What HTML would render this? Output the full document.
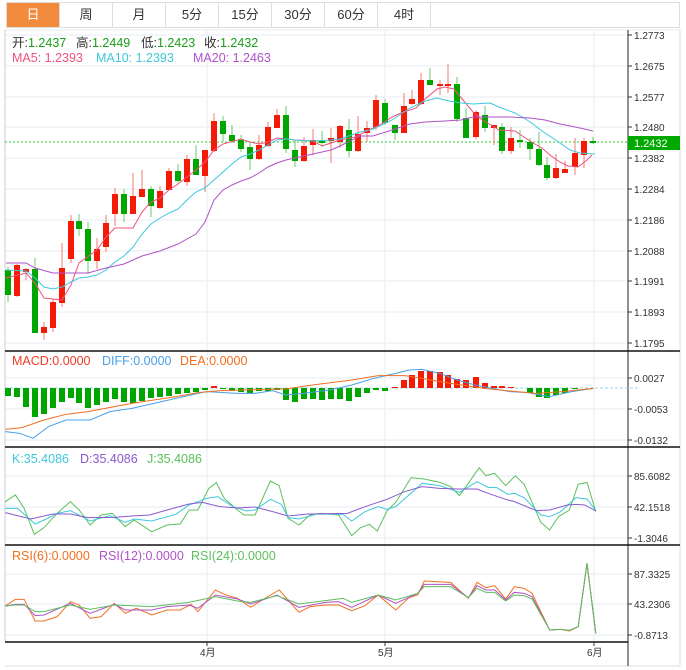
<!DOCTYPE html>
<html><head><meta charset="utf-8"><style>
body{margin:0;background:#fff;width:686px;height:670px;overflow:hidden;font-family:"Liberation Sans","Noto Sans CJK SC",sans-serif}
.tabs{position:absolute;left:6px;top:2px;height:26px;width:674px;border:1px solid #ddd;box-sizing:border-box;display:flex}
.tab{width:53px;height:100%;border-right:1px solid #ddd;box-sizing:border-box;text-align:center;line-height:24px;font-size:13px;color:#333}
.tab.on{background:#f28c3c;color:#fff}
svg{position:absolute;left:0;top:0}
text{font-family:"Liberation Sans","Noto Sans CJK SC",sans-serif}
</style></head><body>
<div class="tabs"><div class="tab on">日</div><div class="tab">周</div><div class="tab">月</div><div class="tab">5分</div><div class="tab">15分</div><div class="tab">30分</div><div class="tab">60分</div><div class="tab">4时</div></div>
<svg width="686" height="670" viewBox="0 0 686 670">
<g stroke="#e6edf2" stroke-width="1">
<line x1="5" y1="35" x2="628" y2="35"/><line x1="5" y1="66" x2="628" y2="66"/><line x1="5" y1="97" x2="628" y2="97"/><line x1="5" y1="127" x2="628" y2="127"/><line x1="5" y1="158" x2="628" y2="158"/><line x1="5" y1="189" x2="628" y2="189"/><line x1="5" y1="220" x2="628" y2="220"/><line x1="5" y1="251" x2="628" y2="251"/><line x1="5" y1="281" x2="628" y2="281"/><line x1="5" y1="312" x2="628" y2="312"/><line x1="5" y1="343" x2="628" y2="343"/>
<line x1="5" y1="378" x2="628" y2="378"/><line x1="5" y1="409" x2="628" y2="409"/><line x1="5" y1="440" x2="628" y2="440"/>
<line x1="5" y1="476" x2="628" y2="476"/><line x1="5" y1="507" x2="628" y2="507"/><line x1="5" y1="538" x2="628" y2="538"/>
<line x1="5" y1="574" x2="628" y2="574"/><line x1="5" y1="604" x2="628" y2="604"/><line x1="5" y1="635" x2="628" y2="635"/>
<line x1="207" y1="30" x2="207" y2="642"/><line x1="385" y1="30" x2="385" y2="642"/><line x1="594" y1="30" x2="594" y2="642"/>
</g>
<line x1="5" y1="30" x2="5" y2="642" stroke="#ccc"/>
<line x1="5" y1="30" x2="680" y2="30" stroke="#e6edf2"/>
<line x1="680" y1="30" x2="680" y2="666" stroke="#ddd"/>
<line x1="5" y1="666" x2="680" y2="666" stroke="#ddd"/>
<line x1="628" y1="30" x2="628" y2="666" stroke="#222"/>
<g stroke="#111" stroke-width="1.5"><line x1="5" y1="351" x2="680" y2="351"/><line x1="5" y1="447" x2="680" y2="447"/><line x1="5" y1="545" x2="680" y2="545"/><line x1="5" y1="642" x2="628" y2="642"/></g>
<g stroke="#333"><line x1="628" y1="35" x2="632" y2="35"/><line x1="628" y1="66" x2="632" y2="66"/><line x1="628" y1="97" x2="632" y2="97"/><line x1="628" y1="127" x2="632" y2="127"/><line x1="628" y1="158" x2="632" y2="158"/><line x1="628" y1="189" x2="632" y2="189"/><line x1="628" y1="220" x2="632" y2="220"/><line x1="628" y1="251" x2="632" y2="251"/><line x1="628" y1="281" x2="632" y2="281"/><line x1="628" y1="312" x2="632" y2="312"/><line x1="628" y1="343" x2="632" y2="343"/><line x1="628" y1="378" x2="632" y2="378"/><line x1="628" y1="409" x2="632" y2="409"/><line x1="628" y1="440" x2="632" y2="440"/><line x1="628" y1="476" x2="632" y2="476"/><line x1="628" y1="507" x2="632" y2="507"/><line x1="628" y1="538" x2="632" y2="538"/><line x1="628" y1="574" x2="632" y2="574"/><line x1="628" y1="604" x2="632" y2="604"/><line x1="628" y1="635" x2="632" y2="635"/><line x1="207" y1="642" x2="207" y2="646"/><line x1="385" y1="642" x2="385" y2="646"/><line x1="594" y1="642" x2="594" y2="646"/></g>
<g font-size="10" fill="#333">
<text x="634" y="39">1.2773</text><text x="634" y="70">1.2675</text><text x="634" y="101">1.2577</text><text x="634" y="131">1.2480</text><text x="634" y="162">1.2382</text><text x="634" y="193">1.2284</text><text x="634" y="224">1.2186</text><text x="634" y="255">1.2088</text><text x="634" y="285">1.1991</text><text x="634" y="316">1.1893</text><text x="634" y="347">1.1795</text>
<text x="634" y="382">0.0027</text><text x="634" y="413">-0.0053</text><text x="634" y="444">-0.0132</text>
<text x="634" y="480">85.6082</text><text x="634" y="511">42.1518</text><text x="634" y="542">-1.3046</text>
<text x="634" y="578">87.3325</text><text x="634" y="608">43.2306</text><text x="634" y="639">-0.8713</text>
<text x="200" y="656">4月</text><text x="378" y="656">5月</text><text x="587" y="656">6月</text>
</g>
<line x1="5" y1="142" x2="628" y2="142" stroke="#3c3" stroke-dasharray="2,2"/>
<rect x="628" y="136" width="52" height="14" fill="#00a800"/><text x="634" y="147" font-size="11" fill="#fff">1.2432</text>
<g font-size="12.5">
<text x="12" y="47" fill="#333">开:<tspan fill="#1a9e1a">1.2437</tspan></text>
<text x="76" y="47" fill="#333">高:<tspan fill="#1a9e1a">1.2449</tspan></text>
<text x="141" y="47" fill="#333">低:<tspan fill="#1a9e1a">1.2423</tspan></text>
<text x="204" y="47" fill="#333">收:<tspan fill="#1a9e1a">1.2432</tspan></text>
<text x="12" y="62" fill="#f0517f">MA5: 1.2393</text>
<text x="96" y="62" fill="#3ec8dc">MA10: 1.2393</text>
<text x="193" y="62" fill="#b052c8">MA20: 1.2463</text>
<text x="12" y="365" fill="#f03a2a">MACD:0.0000</text>
<text x="102" y="365" fill="#4aa0e8">DIFF:0.0000</text>
<text x="180" y="365" fill="#f07020">DEA:0.0000</text>
<text x="12" y="463" fill="#3ec8dc">K:35.4086</text>
<text x="80" y="463" fill="#8a5ad0">D:35.4086</text>
<text x="147" y="463" fill="#5cbf5c">J:35.4086</text>
<text x="12" y="560" fill="#f07020">RSI(6):0.0000</text>
<text x="99" y="560" fill="#b052c8">RSI(12):0.0000</text>
<text x="191" y="560" fill="#5cbf5c">RSI(24):0.0000</text>
</g>
<g stroke-width="1">
<g stroke="#6cc86c"><line x1="8" y1="267" x2="8" y2="302"/><line x1="35" y1="258" x2="35" y2="333"/><line x1="79" y1="214" x2="79" y2="236"/><line x1="88" y1="222" x2="88" y2="274"/><line x1="124" y1="189" x2="124" y2="222"/><line x1="151" y1="186" x2="151" y2="217"/><line x1="178" y1="164" x2="178" y2="183"/><line x1="196" y1="145" x2="196" y2="175"/><line x1="223" y1="116" x2="223" y2="142"/><line x1="232" y1="125" x2="232" y2="143"/><line x1="241" y1="135" x2="241" y2="152"/><line x1="250" y1="142" x2="250" y2="170"/><line x1="286" y1="106" x2="286" y2="153"/><line x1="295" y1="140" x2="295" y2="167"/><line x1="322" y1="131" x2="322" y2="147"/><line x1="349" y1="119" x2="349" y2="157"/><line x1="385" y1="99" x2="385" y2="125"/><line x1="395" y1="125" x2="395" y2="140"/><line x1="430" y1="68" x2="430" y2="85"/><line x1="457" y1="77" x2="457" y2="122"/><line x1="466" y1="108" x2="466" y2="138"/><line x1="485" y1="106" x2="485" y2="132"/><line x1="502" y1="123" x2="502" y2="154"/><line x1="520" y1="130" x2="520" y2="148"/><line x1="530" y1="138" x2="530" y2="160"/><line x1="539" y1="132" x2="539" y2="166"/><line x1="547" y1="157" x2="547" y2="180"/><line x1="593" y1="137" x2="593" y2="144"/></g>
<g stroke="#f47a70"><line x1="17" y1="264" x2="17" y2="297"/><line x1="26" y1="268" x2="26" y2="280"/><line x1="44" y1="322" x2="44" y2="340"/><line x1="53" y1="299" x2="53" y2="332"/><line x1="62" y1="243" x2="62" y2="307"/><line x1="71" y1="215" x2="71" y2="263"/><line x1="97" y1="238" x2="97" y2="269"/><line x1="106" y1="215" x2="106" y2="252"/><line x1="115" y1="188" x2="115" y2="226"/><line x1="133" y1="173" x2="133" y2="214"/><line x1="142" y1="170" x2="142" y2="197"/><line x1="160" y1="186" x2="160" y2="209"/><line x1="169" y1="168" x2="169" y2="190"/><line x1="187" y1="155" x2="187" y2="186"/><line x1="205" y1="150" x2="205" y2="192"/><line x1="214" y1="113" x2="214" y2="152"/><line x1="259" y1="135" x2="259" y2="160"/><line x1="268" y1="122" x2="268" y2="147"/><line x1="277" y1="109" x2="277" y2="128"/><line x1="304" y1="137" x2="304" y2="162"/><line x1="313" y1="129" x2="313" y2="155"/><line x1="331" y1="128" x2="331" y2="163"/><line x1="340" y1="125" x2="340" y2="148"/><line x1="358" y1="116" x2="358" y2="152"/><line x1="367" y1="121" x2="367" y2="142"/><line x1="376" y1="95" x2="376" y2="130"/><line x1="404" y1="93" x2="404" y2="133"/><line x1="412" y1="90" x2="412" y2="105"/><line x1="421" y1="73" x2="421" y2="105"/><line x1="440" y1="80" x2="440" y2="95"/><line x1="448" y1="64" x2="448" y2="93"/><line x1="476" y1="110" x2="476" y2="139"/><line x1="494" y1="125" x2="494" y2="145"/><line x1="511" y1="127" x2="511" y2="154"/><line x1="556" y1="154" x2="556" y2="179"/><line x1="565" y1="161" x2="565" y2="173"/><line x1="575" y1="138" x2="575" y2="175"/><line x1="584" y1="138" x2="584" y2="168"/></g>
</g>
<g fill="#00a600"><rect x="5" y="270" width="6" height="25"/><rect x="32" y="269" width="6" height="64"/><rect x="76" y="221" width="6" height="8"/><rect x="85" y="229" width="6" height="32"/><rect x="121" y="194" width="6" height="20"/><rect x="148" y="189" width="6" height="17"/><rect x="175" y="171" width="6" height="10"/><rect x="193" y="159" width="6" height="16"/><rect x="220" y="121" width="6" height="13"/><rect x="229" y="135" width="6" height="6"/><rect x="238" y="140" width="6" height="9"/><rect x="247" y="147" width="6" height="12"/><rect x="283" y="115" width="6" height="34"/><rect x="292" y="150" width="6" height="11"/><rect x="319" y="141" width="6" height="2"/><rect x="346" y="130" width="6" height="21"/><rect x="382" y="103" width="6" height="20"/><rect x="392" y="125" width="6" height="8"/><rect x="427" y="80" width="6" height="5"/><rect x="454" y="84" width="6" height="35"/><rect x="463" y="118" width="6" height="20"/><rect x="482" y="115" width="6" height="13"/><rect x="499" y="127" width="6" height="24"/><rect x="517" y="140" width="6" height="2"/><rect x="527" y="142" width="6" height="7"/><rect x="536" y="149" width="6" height="16"/><rect x="544" y="165" width="6" height="13"/><rect x="590" y="141" width="6" height="2"/></g>
<g fill="#f51a06"><rect x="14" y="265" width="6" height="31"/><rect x="23" y="269" width="6" height="3"/><rect x="41" y="327" width="6" height="6"/><rect x="50" y="302" width="6" height="26"/><rect x="59" y="268" width="6" height="35"/><rect x="68" y="221" width="6" height="38"/><rect x="94" y="249" width="6" height="12"/><rect x="103" y="223" width="6" height="24"/><rect x="112" y="194" width="6" height="20"/><rect x="130" y="196" width="6" height="18"/><rect x="139" y="189" width="6" height="8"/><rect x="157" y="191" width="6" height="17"/><rect x="166" y="171" width="6" height="19"/><rect x="184" y="159" width="6" height="23"/><rect x="202" y="150" width="6" height="26"/><rect x="211" y="121" width="6" height="30"/><rect x="256" y="145" width="6" height="14"/><rect x="265" y="127" width="6" height="19"/><rect x="274" y="115" width="6" height="13"/><rect x="301" y="146" width="6" height="15"/><rect x="310" y="140" width="6" height="5"/><rect x="328" y="138" width="6" height="3"/><rect x="337" y="126" width="6" height="16"/><rect x="355" y="134" width="6" height="17"/><rect x="364" y="128" width="6" height="5"/><rect x="373" y="100" width="6" height="27"/><rect x="401" y="106" width="6" height="27"/><rect x="409" y="99" width="6" height="5"/><rect x="418" y="80" width="6" height="24"/><rect x="437" y="84" width="6" height="2"/><rect x="445" y="84" width="6" height="2"/><rect x="473" y="112" width="6" height="25"/><rect x="491" y="125" width="6" height="3"/><rect x="508" y="138" width="6" height="13"/><rect x="553" y="168" width="6" height="10"/><rect x="562" y="169" width="6" height="4"/><rect x="572" y="153" width="6" height="14"/><rect x="581" y="141" width="6" height="14"/></g>
<g fill="none" stroke-width="1">
<polyline stroke="#f0517f" points="6,278 26,273 35,283 44,298 62,300 71,285 79,263 97,250 106,237 115,228 133,228 142,212 151,202 160,198 169,190 178,184 196,170 205,162 214,150 223,144 241,139 250,142 259,144 268,142 277,138 286,139 295,140 313,141 322,146 331,143 340,140 355,137 365,132 373,128 380,125 392,117 401,113 416,108 425,99 437,89 445,87 454,89 463,100 473,112 482,120 491,125 499,130 515,131 524,137 533,143 542,148 551,156 560,162 568,166 578,167 587,160 592,155"/>
<polyline stroke="#3ec8dc" points="6,270 26,271 35,278 44,287 53,289 62,287 71,282 79,278 88,277 97,275 106,270 115,262 124,256 133,247 142,234 151,224 160,218 169,213 178,209 187,200 196,192 205,188 214,180 223,172 232,164 241,157 250,154 259,150 268,145 277,140 286,139 295,140 313,141 331,140 340,139 360,132 373,129 392,120 410,108 425,101 437,98 449,101 461,103 473,104 490,103 499,107 515,113 524,118 533,124 542,131 551,137 560,143 570,150 580,153 595,154"/>
<polyline stroke="#b052c8" points="6,263 26,263 35,268 53,273 71,273 88,273 106,268 124,264 142,256 160,251 178,244 196,234 205,222 214,200 223,190 232,185 241,181 250,178 259,173 268,167 277,163 286,160 295,158 313,154 331,150 340,146 360,136 373,136 392,130 410,124 425,122 445,121 461,120 473,117 490,117 510,117 530,118 545,120 560,124 580,128 593,131"/>
</g>
<line x1="5" y1="388" x2="640" y2="388" stroke="#9cd0e8" stroke-dasharray="3,2"/>
<g fill="#00a600">
<rect x="5" y="388" width="6" height="8"/><rect x="14" y="388" width="6" height="9"/><rect x="23" y="388" width="6" height="19"/><rect x="32" y="388" width="6" height="29"/><rect x="41" y="388" width="6" height="26"/><rect x="50" y="388" width="6" height="20"/><rect x="59" y="388" width="6" height="14"/><rect x="68" y="388" width="6" height="10"/><rect x="76" y="388" width="6" height="15"/><rect x="85" y="388" width="6" height="20"/><rect x="94" y="388" width="6" height="17"/><rect x="103" y="388" width="6" height="14"/><rect x="112" y="388" width="6" height="11"/><rect x="121" y="388" width="6" height="14"/><rect x="130" y="388" width="6" height="15"/><rect x="139" y="388" width="6" height="13"/><rect x="148" y="388" width="6" height="10"/><rect x="157" y="388" width="6" height="9"/><rect x="166" y="388" width="6" height="8"/><rect x="175" y="388" width="6" height="6"/><rect x="184" y="388" width="6" height="5"/><rect x="193" y="388" width="6" height="4"/><rect x="202" y="388" width="6" height="2"/>
<rect x="220" y="388" width="6" height="1"/><rect x="229" y="388" width="6" height="3"/><rect x="238" y="388" width="6" height="4"/><rect x="247" y="388" width="6" height="5"/><rect x="256" y="388" width="6" height="3"/><rect x="265" y="388" width="6" height="3"/><rect x="274" y="388" width="6" height="2"/>
<rect x="283" y="388" width="6" height="12"/><rect x="292" y="388" width="6" height="14"/><rect x="301" y="388" width="6" height="11"/><rect x="310" y="388" width="6" height="11"/><rect x="319" y="388" width="6" height="12"/><rect x="328" y="388" width="6" height="11"/><rect x="337" y="388" width="6" height="11"/><rect x="346" y="388" width="6" height="13"/><rect x="355" y="388" width="6" height="9"/><rect x="364" y="388" width="6" height="5"/><rect x="373" y="388" width="6" height="2"/><rect x="382" y="388" width="6" height="3"/>
<rect x="527" y="388" width="6" height="5"/><rect x="536" y="388" width="6" height="9"/><rect x="544" y="388" width="6" height="10"/><rect x="553" y="388" width="6" height="7"/><rect x="562" y="388" width="6" height="5"/><rect x="572" y="388" width="6" height="1"/>
</g>
<g fill="#f51a06">
<rect x="211" y="386" width="6" height="2"/><rect x="392" y="387" width="6" height="1"/><rect x="401" y="380" width="6" height="8"/><rect x="409" y="375" width="6" height="13"/><rect x="418" y="371" width="6" height="17"/><rect x="427" y="371" width="6" height="17"/><rect x="437" y="372" width="6" height="16"/><rect x="445" y="375" width="6" height="13"/><rect x="454" y="379" width="6" height="9"/><rect x="463" y="380" width="6" height="8"/><rect x="473" y="377" width="6" height="11"/><rect x="482" y="383" width="6" height="5"/><rect x="491" y="386" width="6" height="2"/><rect x="499" y="386" width="6" height="2"/><rect x="508" y="387" width="6" height="1"/>
</g>
<g transform="translate(0,345) scale(0.4397,0.3333)" fill="none">
<polyline vector-effect="non-scaling-stroke" stroke="#4aa0e8" points="12,260 45,265 75,280 110,245 150,225 205,225 250,200 300,190 350,175 400,160 450,145 470,140 500,142 540,145 580,145 620,137 650,150 690,145 750,135 800,120 850,100 900,85 930,75 960,73 1000,85 1040,105 1080,120 1120,130 1160,140 1200,143 1250,155 1300,140 1350,130"/>
<polyline vector-effect="non-scaling-stroke" stroke="#f07020" points="12,253 50,248 100,225 150,208 200,200 300,175 400,155 450,143 500,137 600,133 650,132 700,122 800,105 860,92 920,92 960,100 1000,110 1050,120 1100,130 1160,138 1220,145 1280,140 1350,130"/>
</g>
<g transform="translate(0,445) scale(0.4397,0.3333)" fill="none">
<polyline vector-effect="non-scaling-stroke" stroke="#5cbf5c" points="12,170 35,150 55,190 78,268 100,248 130,205 160,170 180,195 205,240 230,210 255,205 285,245 305,225 345,260 380,240 410,237 430,195 450,195 475,130 492,113 510,160 540,195 555,210 580,210 615,108 635,122 655,220 680,240 705,210 730,205 770,210 800,272 820,248 840,238 858,258 880,198 900,172 935,98 965,102 1000,112 1025,125 1045,152 1090,68 1105,92 1125,85 1150,122 1172,92 1192,118 1230,232 1250,255 1270,215 1295,195 1315,118 1335,112 1355,200"/>
<polyline vector-effect="non-scaling-stroke" stroke="#3ec8dc" points="12,190 40,190 80,237 105,222 130,205 160,197 205,228 250,212 285,232 305,222 345,228 400,208 430,180 470,160 495,155 530,185 560,198 580,195 615,163 640,178 655,218 680,222 720,207 780,208 800,228 830,200 860,185 880,193 900,185 930,150 960,115 1000,122 1045,142 1085,110 1110,127 1130,128 1155,148 1170,145 1192,158 1230,210 1250,215 1275,200 1310,158 1335,162 1355,197"/>
<polyline vector-effect="non-scaling-stroke" stroke="#8a5ad0" points="12,203 70,222 120,207 160,207 200,218 260,217 300,213 340,210 380,195 430,177 460,172 500,185 540,189 580,186 620,200 655,213 700,207 790,205 830,185 880,163 920,140 960,125 1000,130 1040,132 1085,132 1110,145 1150,163 1170,170 1220,197 1250,195 1290,180 1310,178 1330,180 1355,198"/>
</g>
<g transform="translate(0,545) scale(0.4397,0.3333)" fill="none">
<polyline vector-effect="non-scaling-stroke" stroke="#f07020" points="12,183 35,163 55,163 80,228 100,228 130,215 160,170 180,180 205,220 230,215 260,175 285,205 310,190 345,210 380,195 410,195 435,178 450,200 490,135 510,148 540,160 570,187 600,162 635,135 680,202 705,185 740,180 770,180 800,197 830,182 860,150 900,195 930,158 950,150 965,108 1025,112 1065,160 1085,112 1105,128 1125,122 1150,162 1170,125 1192,130 1210,145 1250,255 1275,253 1295,258 1315,245 1335,55 1355,265"/>
<polyline vector-effect="non-scaling-stroke" stroke="#b052c8" points="12,183 35,178 55,178 80,212 100,210 160,175 205,205 260,178 285,195 345,195 380,185 430,180 450,190 490,150 540,162 570,177 630,150 680,187 740,172 770,170 800,187 860,150 900,175 950,145 965,118 1025,118 1065,158 1085,122 1105,135 1125,135 1150,165 1170,142 1192,145 1210,155 1250,255 1275,253 1295,256 1315,245 1335,55 1355,265"/>
<polyline vector-effect="non-scaling-stroke" stroke="#5cbf5c" points="12,183 35,180 55,180 80,200 100,200 160,180 205,193 260,180 345,185 430,172 490,155 540,168 570,172 630,152 680,177 740,167 780,160 800,172 860,150 900,165 950,145 965,125 1025,125 1065,158 1085,130 1105,142 1125,142 1150,168 1170,150 1192,152 1210,162 1250,255 1275,253 1295,256 1315,245 1335,55 1355,265"/>
</g>
</svg>
</body></html>
